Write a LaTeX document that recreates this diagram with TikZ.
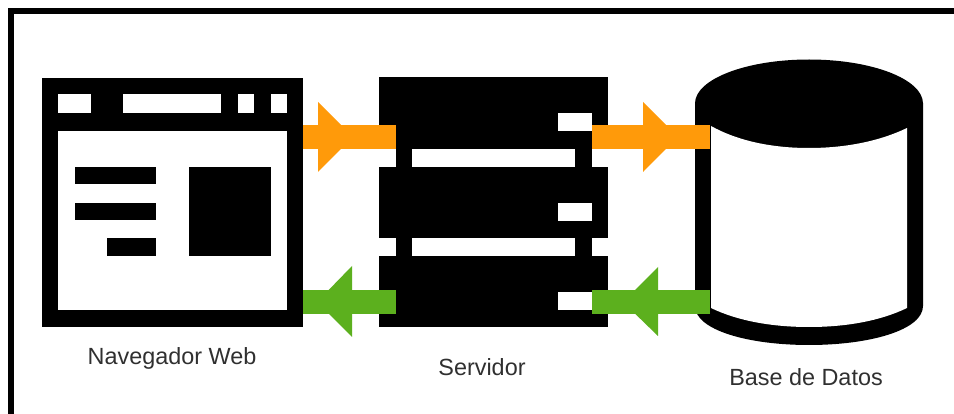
\documentclass[tikz,border=0pt]{standalone}
\usepackage{fontspec}
\setmainfont{Liberation Sans}
\definecolor{orangeC}{HTML}{FF9A0A}
\definecolor{greenC}{HTML}{5CB01E}
\definecolor{labelC}{HTML}{303030}
\tikzset{
  block/.style={fill=black,inner sep=0pt,outer sep=0pt,anchor=north west},
  gap/.style={fill=white},
  solid black/.style={fill=black},
  lbl/.style={text=labelC,inner sep=0pt,font=\fontsize{23.4}{27}\selectfont},
  orangebar/.style={draw=orangeC,line width=24.5pt},
  greenbar/.style={draw=greenC,line width=24.5pt},
}
\begin{document}
\begin{tikzpicture}[x=1pt,y=-1pt]
\useasboundingbox (0,0) rectangle (954,414);
\fill[white] (0,0) rectangle (954,414);
% frame
\fill[solid black] (8,8.5) rectangle (954,14.5);
\fill[solid black] (8,8.5) rectangle (14,414);
% browser
\node[block,minimum width=261pt,minimum height=249pt] (browser) at (42,78) {};
\foreach \a/\b in {58/91,123/221,238/254,271/287}
  \fill[gap] (\a,94) rectangle (\b,113);
\fill[gap] (58,131) rectangle (287,310);
\fill[solid black] (75,167) rectangle (156,184);
\fill[solid black] (75,203) rectangle (156,220);
\fill[solid black] (107,238) rectangle (156,256);
\fill[solid black] (189,167) rectangle (271,256);
% server
\node[block,minimum width=229pt,minimum height=250pt] (server) at (379,77) {};
\foreach \y in {113,203,292}
  \fill[gap] (558,\y) rectangle (592,\y+18);
\foreach \y in {149,238}{
  \fill[gap] (379,\y) rectangle (396,\y+18);
  \fill[gap] (412,\y) rectangle (575,\y+18);
  \fill[gap] (592,\y) rectangle (608,\y+18);
}
% database
\node[inner sep=0pt,outer sep=0pt,minimum width=228pt,minimum height=285pt,anchor=north west] (db) at (695,60) {};
\fill[solid black] (809,103.5) ellipse [x radius=114pt,y radius=44pt];
\fill[solid black] (695,103.5) -- (923,103.5) -- (923,306)
  .. controls (923,330) and (870,345) .. (809,345)
  .. controls (748,345) and (695,330) .. (695,306) -- cycle;
\fill[gap] (711,126) .. controls (738,141) and (772,148) .. (809,148)
  .. controls (846,148) and (880,141) .. (907,128) -- (907,308)
  .. controls (880,321) and (846,327) .. (809,327)
  .. controls (772,327) and (738,321) .. (711,308) -- cycle;
% connectors
\coordinate (rowA) at (0,136.8);
\coordinate (rowB) at (0,302);
\draw[orangebar] (browser.east |- rowA) -- ([xshift=17pt]server.west |- rowA);
\fill[orangeC] (318,102) -- (353,136.8) -- (318,172) -- cycle;
\draw[orangebar] ([xshift=-16pt]server.east |- rowA) -- ([xshift=15pt]db.west |- rowA);
\fill[orangeC] (643,102) -- (678,136.8) -- (643,172) -- cycle;
\draw[greenbar] ([xshift=17pt]server.west |- rowB) -- (browser.east |- rowB);
\fill[greenC] (352,266) -- (317,302) -- (352,337) -- cycle;
\draw[greenbar] ([xshift=15pt]db.west |- rowB) -- ([xshift=-16pt]server.east |- rowB);
\fill[greenC] (658,267) -- (623,302) -- (658,336) -- cycle;
% labels
\node[lbl] (lb) at (172,358) {Navegador Web};
\node[lbl] (ls) at (482,367) {Servidor};
\node[lbl] (ld) at (806,377) {Base de Datos};
\end{tikzpicture}
\end{document}
